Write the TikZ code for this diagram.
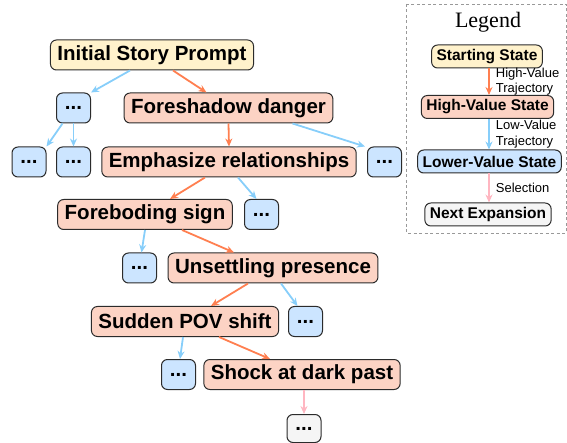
\documentclass[tikz,border=0pt]{standalone}
\usepackage{fontspec}
\setmainfont{Liberation Sans}
\newfontfamily\legendfont{Liberation Serif}
\usetikzlibrary{arrows.meta}
\usetikzlibrary{calc}

\definecolor{startfill}{HTML}{FFF2CC}
\definecolor{highfill}{HTML}{FCD3C4}
\definecolor{lowfill}{HTML}{CCE5FF}
\definecolor{nextfill}{HTML}{F5F5F5}
\definecolor{boxline}{HTML}{2B2B2B}
\definecolor{higharrow}{HTML}{FF7F50}
\definecolor{lowarrow}{HTML}{87CEFA}
\definecolor{selarrow}{HTML}{FFB6C1}

\tikzset{
  state/.style={draw=boxline, line width=1pt, rounded corners=6pt, minimum height=30pt,
    inner xsep=7pt, inner ysep=2pt, font=\fontsize{20.5}{24}\selectfont\bfseries},
  startstate/.style={state, fill=startfill},
  highstate/.style={state, fill=highfill},
  lowstate/.style={state, fill=lowfill, minimum width=34pt, inner xsep=2pt},
  nextstate/.style={state, fill=nextfill, minimum width=34pt, inner xsep=2pt, minimum height=28pt},
  keystate/.style={draw=boxline, line width=1pt, rounded corners=6pt, minimum height=23pt,
    inner xsep=5pt, inner ysep=1pt, font=\fontsize{15.5}{18}\selectfont\bfseries},
  highedge/.style={draw=higharrow, line width=1.8pt, -{Stealth[length=8pt,width=7pt]}},
  lowedge/.style={draw=lowarrow, line width=1.8pt, -{Stealth[length=8pt,width=7pt]}},
  seledge/.style={draw=selarrow, line width=1.8pt, -{Stealth[length=8pt,width=7pt]}},
  keylabel/.style={right, align=left, font=\fontsize{13}{15.5}\selectfont, inner xsep=6pt}
}

\begin{document}
\begin{tikzpicture}[x=1pt, y=-1pt]

    \useasboundingbox (0,0) rectangle (567,443);

    % tree of states
    \node[startstate] (init) at (152,55) {Initial Story Prompt};

    \node[lowstate] (d1) at (73.5,108) {...};
    \node[highstate] (fd) at (228.5,108) {Foreshadow danger};

    \node[lowstate] (d2) at (29,162) {...};
    \node[lowstate] (d3) at (73.5,162) {...};
    \node[highstate] (em) at (229,162) {Emphasize relationships};
    \node[lowstate] (d4) at (384.5,162) {...};

    \node[highstate] (fb) at (145,214.5) {Foreboding sign};
    \node[lowstate] (d5) at (261.5,214.5) {...};

    \node[lowstate] (d6) at (139.5,268) {...};
    \node[highstate] (us) at (273,268) {Unsettling presence};

    \node[highstate] (sp) at (185,321.5) {Sudden POV shift};
    \node[lowstate] (d7) at (305.5,321.5) {...};

    \node[lowstate] (d8) at (178.5,374.5) {...};
    \node[highstate] (sh) at (302,374.5) {Shock at dark past};

    \node[nextstate] (d9) at (304,428.5) {...};

    % connectors
    \draw[lowedge] ($(init.south)+(-22,0)$) -- (d1.north east);
    \draw[highedge] ($(init.south)+(21,0)$) -- ($(fd.north)+(-22,0)$);
    \draw[lowedge] ($(d1.south)+(-11,0)$) -- (d2.north east);
    \draw[lowedge] (d1.south) -- (d3.north);
    \draw[highedge] (fd.south) -- (em.north);
    \draw[lowedge] ($(fd.south)+(64,0)$) -- ($(d4.north west)+(-2,0)$);
    \draw[highedge] ($(em.south)+(-24,0)$) -- ($(fb.north)+(25,0)$);
    \draw[lowedge] ($(em.south)+(9,0)$) -- ($(d5.north)+(-5,0)$);
    \draw[lowedge] (fb.south) -- ($(d6.north)+(2,0)$);
    \draw[highedge] ($(fb.south)+(37,0)$) -- ($(us.north)+(-39,0)$);
    \draw[highedge] ($(us.south)+(-25,0)$) -- ($(sp.north)+(26,0)$);
    \draw[lowedge] ($(us.south)+(8,0)$) -- ($(d7.north)+(-8,0)$);
    \draw[lowedge] ($(sp.south)+(-2,0)$) -- ($(d8.north)+(1.5,0)$);
    \draw[highedge] ($(sp.south)+(34,0)$) -- ($(sh.north)+(-32,0)$);
    \draw[seledge] ($(sh.south)+(2,0)$) -- (d9.north);

    % legend
    \draw[gray!80, dash pattern=on 3pt off 2.5pt, line width=0.6pt] (406,4) rectangle (566,233);
    \node[font=\fontsize{22}{25}\selectfont\legendfont] (title) at (488,22) {Legend};

    \node[keystate, fill=startfill] (ks) at (487,56.5) {Starting State};
    \node[keystate, fill=highfill] (kh) at (487.5,107) {High-Value State};
    \node[keystate, fill=lowfill] (kl) at (489.5,161.5) {Lower-Value State};
    \node[keystate, fill=nextfill] (kn) at (488,214.5) {Next Expansion};

    \draw[highedge] ($(ks.south)+(2,0)$) -- ($(kh.north)+(1.5,0)$) node[keylabel, midway] {High-Value\\Trajectory};
    \draw[lowedge] ($(kh.south)+(1.5,0)$) -- ($(kl.north)+(-0.5,0)$) node[keylabel, midway] {Low-Value\\Trajectory};
    \draw[seledge] ($(kl.south)+(-0.5,0)$) -- ($(kn.north)+(1,0)$) node[keylabel, midway] {Selection};

\end{tikzpicture}
\end{document}
